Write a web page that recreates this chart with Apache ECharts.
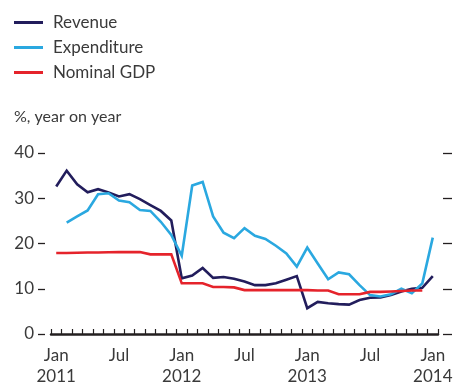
<!DOCTYPE html>
<html>
<head>
<meta charset="utf-8">
<script src="https://cdn.jsdelivr.net/npm/echarts@6/dist/echarts.min.js"></script>
<style>
  html, body { margin: 0; padding: 0; background: #fff; }
  #chart { width: 455px; height: 383px; }
</style>
</head>
<body>
<div id="chart"></div>
<script>
// Monthly categories, Jan 2011 – Jan 2014
var months = [
  'Jan 2011','Feb 2011','Mar 2011','Apr 2011','May 2011','Jun 2011','Jul 2011','Aug 2011','Sep 2011','Oct 2011','Nov 2011','Dec 2011',
  'Jan 2012','Feb 2012','Mar 2012','Apr 2012','May 2012','Jun 2012','Jul 2012','Aug 2012','Sep 2012','Oct 2012','Nov 2012','Dec 2012',
  'Jan 2013','Feb 2013','Mar 2013','Apr 2013','May 2013','Jun 2013','Jul 2013','Aug 2013','Sep 2013','Oct 2013','Nov 2013','Dec 2013',
  'Jan 2014'
];

// Axis labels shown under selected months
var xTickLabels = {
  'Jan 2011': 'Jan\n2011', 'Jul 2011': 'Jul',
  'Jan 2012': 'Jan\n2012', 'Jul 2012': 'Jul',
  'Jan 2013': 'Jan\n2013', 'Jul 2013': 'Jul',
  'Jan 2014': 'Jan\n2014'
};

// % change, year on year
var revenue = [
  32.6, 36.1, 33.1, 31.3, 32.0, 31.3, 30.4, 30.9, 29.8, 28.5, 27.2, 25.1,
  12.3, 12.9, 14.6, 12.4, 12.6, 12.2, 11.6, 10.8, 10.8, 11.2, 12.0, 12.8,
  5.7, 7.1, 6.8, 6.6, 6.5, 7.5, 8.0, 8.1, 8.6, 9.4, 10.0, 10.2,
  12.8
];
var expenditure = [
  null, 24.6, 26.0, 27.3, 30.9, 31.1, 29.5, 29.1, 27.4, 27.2, 24.8, 21.9,
  17.3, 32.8, 33.6, 26.0, 22.4, 21.2, 23.4, 21.7, 21.0, 19.5, 17.8, 14.9,
  19.1, 15.6, 12.1, 13.6, 13.2, 10.8, 8.6, 8.3, 8.8, 10.0, 9.0, 11.2,
  21.3
];
var nominalGdp = [
  17.9, 17.9, 17.95, 18.0, 18.0, 18.05, 18.1, 18.1, 18.1, 17.6, 17.6, 17.6,
  11.2, 11.2, 11.2, 10.4, 10.4, 10.3, 9.7, 9.7, 9.7, 9.7, 9.7, 9.7,
  9.7, 9.6, 9.6, 8.8, 8.8, 8.8, 9.3, 9.3, 9.4, 9.5, 9.6, 9.6,
  null
];

var yTicks = { min: 0, max: 40, interval: 10 };

var ink = '#231f20';
var textColor = '#3a3a3a';
var font = 'Lato';

var chart = echarts.init(document.getElementById('chart'), null, { renderer: 'canvas' });

function lineSeries(name, data, color) {
  return {
    name: name,
    type: 'line',
    data: data,
    showSymbol: false,
    symbol: 'none',
    connectNulls: false,
    lineStyle: { color: color, width: 2.6, join: 'miter' },
    itemStyle: { color: color },
    emphasis: { disabled: true },
    animation: false
  };
}

chart.setOption({
  animation: false,
  textStyle: { fontFamily: font },
  title: {
    text: '%, year on year',
    left: 14,
    top: 109,
    padding: 0,
    textStyle: { fontFamily: font, fontSize: 16, fontWeight: 'normal', color: textColor }
  },
  legend: {
    orient: 'vertical',
    left: 14,
    top: 13,
    padding: 0,
    itemWidth: 29,
    itemHeight: 3,
    itemGap: 6,
    icon: 'rect',
    selectedMode: false,
    textStyle: { fontFamily: font, fontSize: 17, color: textColor, lineHeight: 19, padding: [0, 0, 0, 5] },
    data: ['Revenue', 'Expenditure', 'Nominal GDP']
  },
  grid: { left: 51, right: 17, top: 153, bottom: 49, containLabel: false, outerBoundsMode: 'none' },
  xAxis: {
    type: 'category',
    data: months,
    boundaryGap: true,
    axisLine: { show: true, lineStyle: { color: ink, width: 2.5 } },
    axisTick: { show: true, inside: true, length: 5, interval: 0, lineStyle: { color: ink, width: 1.2 } },
    axisLabel: {
      interval: 0,
      margin: 11,
      color: textColor,
      fontFamily: font,
      fontSize: 17,
      lineHeight: 21,
      formatter: function (v) { return xTickLabels[v] || ''; }
    },
    splitLine: { show: false }
  },
  yAxis: [
    {
      type: 'value',
      position: 'left',
      min: yTicks.min, max: yTicks.max, interval: yTicks.interval,
      offset: 6,
      axisLine: { show: false },
      axisTick: { show: true, length: 7, lineStyle: { color: ink, width: 1.3 } },
      axisLabel: {
        margin: 11,
        color: textColor,
        fontFamily: font,
        fontSize: 17,
        verticalAlign: 'middle',
        padding: [0, 0, 7, 0]
      },
      splitLine: { show: false }
    },
    {
      type: 'value',
      position: 'right',
      min: yTicks.min, max: yTicks.max, interval: yTicks.interval,
      offset: 5,
      axisLine: { show: false },
      axisTick: { show: true, length: 9, lineStyle: { color: ink, width: 1.3 } },
      axisLabel: { show: false },
      splitLine: { show: false }
    }
  ],
  series: [
    lineSeries('Revenue', revenue, '#221d5c'),
    lineSeries('Expenditure', expenditure, '#2aa8e0'),
    lineSeries('Nominal GDP', nominalGdp, '#e5232b')
  ]
});
</script>
</body>
</html>
